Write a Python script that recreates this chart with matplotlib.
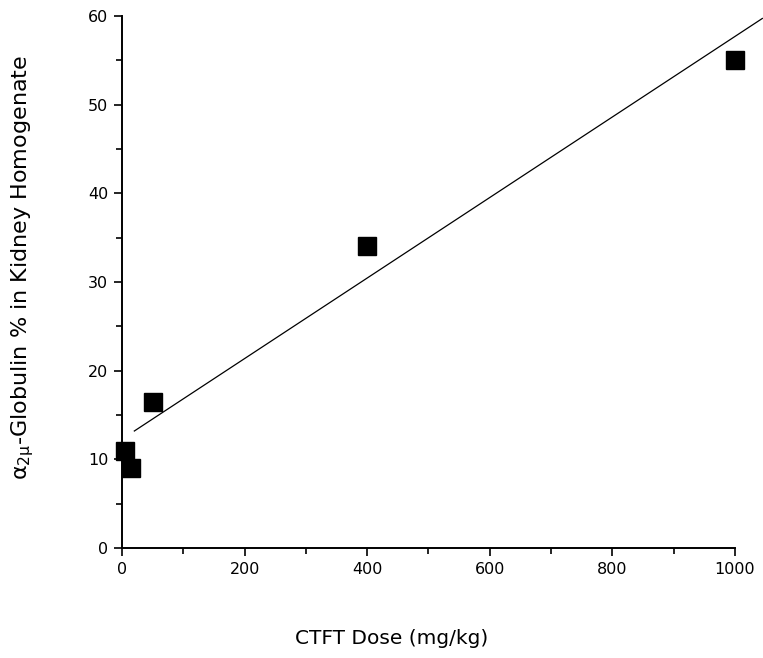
import numpy as np
import matplotlib.pyplot as plt
from matplotlib.ticker import MultipleLocator

# dose vs alpha-2u globulin
dose = [5, 15, 50, 400, 1000]
globulin = [11.0, 9.0, 16.5, 34.0, 55.0]

# regression line as drawn in the figure (end points)
fit_x = [20, 1045]
fit_y = [13.2, 59.7]


def plotDose(save: str = "out.png") -> None:
    """Scatter of globulin vs dose with the fitted line"""
    fig = plt.figure(figsize=(7.63, 6.58), dpi=100)
    ax = fig.add_axes([0.160, 0.167, 0.803, 0.809])

    ax.plot(fit_x, fit_y, color="black", lw=0.9, clip_on=False)
    ax.plot(dose, globulin, marker="s", markersize=13, linestyle="None",
            color="black", clip_on=False, zorder=3)

    ax.set_xlim(0, 1000)
    ax.set_ylim(0, 60)
    ax.xaxis.set_major_locator(MultipleLocator(200))
    ax.xaxis.set_minor_locator(MultipleLocator(100))
    ax.yaxis.set_major_locator(MultipleLocator(10))
    ax.yaxis.set_minor_locator(MultipleLocator(5))
    ax.tick_params(which="major", direction="out", length=6, width=1.2,
                   labelsize=11.5, pad=4)
    ax.tick_params(which="minor", direction="out", length=4, width=1.2)

    for side in ["top", "right"]:
        ax.spines[side].set_visible(False)
    for side in ["left", "bottom"]:
        ax.spines[side].set_linewidth(1.4)

    fig.text(0.513, 0.029, "CTFT Dose (mg/kg)", ha="center", va="center",
             fontsize=14.5)
    fig.text(0.029, 0.593,
             r"α$_{\mathregular{2μ}}$-Globulin % in Kidney Homogenate",
             ha="center", va="center", rotation=90, fontsize=16)

    fig.savefig(save, dpi=100)


if __name__ == "__main__":
    plotDose()
